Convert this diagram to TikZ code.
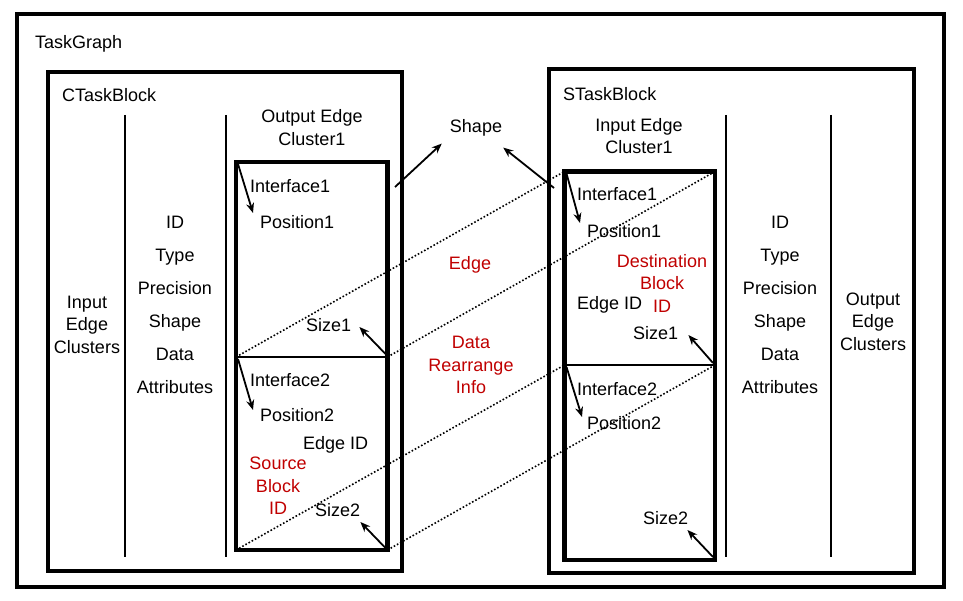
\documentclass[tikz,border=0pt]{standalone}
\usepackage{fontspec}
\setmainfont{Liberation Sans}
\usetikzlibrary{arrows.meta}
\definecolor{darkred}{RGB}{192,0,0}
\begin{document}
\begin{tikzpicture}[x=1pt,y=-1pt,
  every node/.style={font=\fontsize{18}{22.5}\selectfont, inner sep=0pt},
  box/.style={draw, line width=4pt, outer sep=0pt, inner sep=0pt},
  thinline/.style={line width=1.4pt},
  arr/.style={-{Stealth[length=10pt,width=8pt]}, line width=1.8pt},
  dots/.style={dotted, line width=1.6pt},
  lbl/.style={align=center},
  redlbl/.style={align=center, text=darkred},
  attrlist/.style={align=center, font=\fontsize{18}{33}\selectfont},
]
\useasboundingbox (0,0) rectangle (963,601);
% boxes
\node[box, minimum width=927pt, minimum height=572.5pt] (outer) at (480.5,300.25) {};
\node[box, minimum width=354pt, minimum height=499pt] (cblock) at (225,321.5) {};
\node[box, minimum width=365pt, minimum height=504pt] (sblock) at (731.5,321) {};
\node[box, line width=4.5pt, minimum width=151.5pt, minimum height=388pt] (cbox) at (311.75,356) {};
\node[box, line width=4.5pt, minimum width=150.5pt, minimum height=388.5pt] (sbox) at (639.75,365.75) {};
% separator coordinates
\coordinate (cmidL) at (236,357);
\coordinate (cmidR) at (387.5,357);
\coordinate (smidL) at (564.5,365);
\coordinate (smidR) at (715,365);
\draw[thinline] (cmidL) -- (cmidR);
\draw[thinline] (smidL) -- (smidR);
% thin vertical lines
\coordinate (v1t) at (125,115); \coordinate (v1b) at (125,557);
\coordinate (v2t) at (226,115); \coordinate (v2b) at (226,557);
\coordinate (v3t) at (726,115); \coordinate (v3b) at (726,557);
\coordinate (v4t) at (831,115); \coordinate (v4b) at (831,557);
\draw[thinline] (v1t) -- (v1b);
\draw[thinline] (v2t) -- (v2b);
\draw[thinline] (v3t) -- (v3b);
\draw[thinline] (v4t) -- (v4b);
% titles
\node[anchor=west] (tg) at (35,44) {TaskGraph};
\node[anchor=west] (ctb) at (62,95) {CTaskBlock};
\node[anchor=west] (stb) at (563,94) {STaskBlock};
% left column texts
\node[lbl] (iec) at (87,324.5) {Input\\Edge\\Clusters};
\node[attrlist] (lattr) at (175,304.5) {ID\\Type\\Precision\\Shape\\Data\\Attributes};
\node[lbl] (oec1) at (312,127.5) {Output Edge\\Cluster1};
% right column texts
\node[lbl] (iec1) at (639,136) {Input Edge\\Cluster1};
\node[attrlist] (rattr) at (780,304.5) {ID\\Type\\Precision\\Shape\\Data\\Attributes};
\node[lbl] (oec) at (873,321.5) {Output\\Edge\\Clusters};
% middle texts
\node (shape) at (476,128) {Shape};
\node[redlbl] (edge) at (470,265) {Edge};
\node[redlbl] (dri) at (471,365) {Data\\Rearrange\\Info};
% left box contents
\node[anchor=west] (cif1) at (250,186) {Interface1};
\node[anchor=west] (cpos1) at (260,222) {Position1};
\node[anchor=west] (csize1) at (306,325) {Size1};
\node[anchor=west] (cif2) at (250,380) {Interface2};
\node[anchor=west] (cpos2) at (260,415) {Position2};
\node[anchor=west] (ceid) at (303,445) {Edge ID};
\node[redlbl] (sbid) at (278,486) {Source\\Block\\ID};
\node[anchor=west] (csize2) at (315,510) {Size2};
% right box contents
\node[anchor=west] (sif1) at (577,194) {Interface1};
\node[anchor=west] (spos1) at (587,231) {Position1};
\node[redlbl] (dbid) at (662,283) {Destination\\Block\\ID};
\node[anchor=west] (seid) at (577,305) {Edge ID};
\node[anchor=west] (ssize1) at (633,333) {Size1};
\node[anchor=west] (sif2) at (577,389) {Interface2};
\node[anchor=west] (spos2) at (587,423) {Position2};
\node[anchor=west] (ssize2) at (643,518) {Size2};
% dotted edges
\draw[dots] (cmidL) -- (sbox.north west);
\draw[dots] (cmidR) -- (sbox.north east);
\draw[dots] (cbox.south west) -- (smidL);
\draw[dots] (cbox.south east) -- (smidR);
% arrows in left box
\draw[arr] ([shift={(2,2)}]cbox.north west) -- ([shift={(-7,-9)}]cpos1.west);
\draw[arr] ([shift={(-1,-2)}]cmidR) -- ([shift={(8,2)}]csize1.east);
\draw[arr] ([shift={(2,2)}]cmidL) -- ([shift={(-7,-5)}]cpos2.west);
\draw[arr] ([shift={(-2,-2)}]cbox.south east) -- ([shift={(0,12)}]csize2.east);
% arrows in right box
\draw[arr] ([shift={(2,2)}]sbox.north west) -- ([shift={(-7,-8)}]spos1.west);
\draw[arr] ([shift={(-2,-2)}]smidR) -- ([shift={(10,2)}]ssize1.east);
\draw[arr] ([shift={(2,2)}]smidL) -- ([shift={(-5,-6)}]spos2.west);
\draw[arr] ([shift={(-2,-3)}]sbox.south east) -- ([shift={(-1,12)}]ssize2.east);
% shape arrows
\coordinate (shL) at (395,187);
\coordinate (shR) at (554,188);
\draw[arr] (shL) -- ([shift={(-8,7)}]shape.south west);
\draw[arr] (shR) -- ([shift={(1,11)}]shape.south east);
\end{tikzpicture}
\end{document}
